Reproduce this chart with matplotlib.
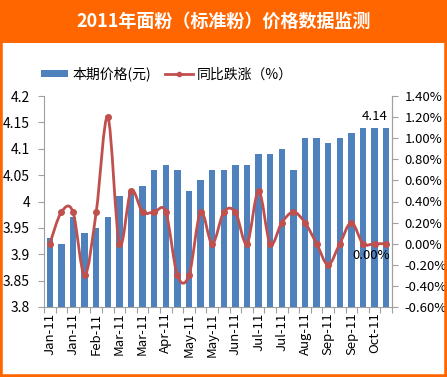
import numpy as np
import matplotlib
matplotlib.use("Agg")
import matplotlib.pyplot as plt
from matplotlib.path import Path
from matplotlib.patches import PathPatch, Rectangle
from matplotlib.lines import Line2D

plt.rcParams['font.family'] = ['Noto Sans CJK SC', 'DejaVu Sans']

# data
labels = ["Jan-11", "Jan-11", "Feb-11", "Mar-11", "Mar-11", "Apr-11", "May-11", "May-11",
          "Jun-11", "Jul-11", "Jul-11", "Aug-11", "Sep-11", "Sep-11", "Oct-11"]
price = [3.93, 3.92, 3.97, 3.94, 3.95, 3.97, 4.01, 4.02, 4.03, 4.06,
         4.07, 4.06, 4.02, 4.04, 4.06, 4.06, 4.07, 4.07, 4.09, 4.09,
         4.10, 4.06, 4.12, 4.12, 4.11, 4.12, 4.13, 4.14, 4.14, 4.14]
yoy = [0.0, 0.3, 0.3, -0.3, 0.3, 1.2, 0.0, 0.5, 0.3, 0.3,
       0.3, -0.3, -0.3, 0.3, 0.0, 0.3, 0.3, 0.0, 0.5, 0.0,
       0.2, 0.3, 0.2, 0.0, -0.2, 0.0, 0.2, 0.0, 0.0, 0.0]

blue = "#4F81BD"
red = "#C0504D"
orange = "#FF6600"

W, H = 447, 377
fig = plt.figure(figsize=(W / 100, H / 100), dpi=100)
fig.patch.set_facecolor("white")

# orange frame + title band
fig.add_artist(Rectangle((0, 0), 1, 1, transform=fig.transFigure, fill=False,
                         edgecolor=orange, linewidth=4))
fig.add_artist(Rectangle((0, 1 - 43 / H), 1, 43 / H, transform=fig.transFigure,
                         facecolor=orange, edgecolor="none"))
fig.text(0.5, 1 - 21 / H, "2011年面粉（标准粉）价格数据监测", color="white",
         fontsize=13, fontweight="bold", ha="center", va="center")

ax = fig.add_axes([44 / W, 1 - 307 / H, (392 - 44) / W, (307 - 96) / H])
x = np.arange(len(price))
ax.bar(x, price, width=0.55, color=blue, zorder=2)
ax.set_ylim(3.8, 4.2)
ax.set_xlim(-0.5, len(price) - 0.5)
ax.set_yticks(np.arange(3.8, 4.2001, 0.05))
ax.set_yticklabels(["3.8", "3.85", "3.9", "3.95", "4", "4.05", "4.1", "4.15", "4.2"])
ax.set_xticks(np.arange(-0.5, len(price), 1))
ax.set_xticklabels([])
ax.set_xticks(x[::2], minor=True)
ax.set_xticklabels(labels, minor=True, rotation=90, fontsize=9.5)
ax.tick_params(axis="x", which="minor", length=0, pad=4)
ax.tick_params(axis="x", which="major", length=4, color="#A0A0A0")
ax.tick_params(axis="y", length=4, color="#A0A0A0", labelsize=10, pad=6)
ax.spines["top"].set_visible(False)
for s in ["left", "right", "bottom"]:
    ax.spines[s].set_color("#A0A0A0")
ax.text(x[28], price[28] + 0.008, "4.14", ha="center", va="bottom", fontsize=9.5)

ax2 = ax.twinx()
ax2.set_ylim(-0.6, 1.4)
ax2.set_yticks(np.arange(-0.6, 1.4001, 0.2))
ax2.set_yticklabels([f"{v:.2f}%" for v in np.arange(-0.6, 1.4001, 0.2)])
ax2.tick_params(axis="y", length=4, color="#A0A0A0", labelsize=9.5, pad=5)
for s in ["top", "left", "bottom"]:
    ax2.spines[s].set_visible(False)
ax2.spines["right"].set_color("#A0A0A0")

# smoothed line like Excel's (cubic Bezier through the points)
yv = np.array(yoy)
verts = [(x[0], yv[0])]
codes = [Path.MOVETO]
t = 1 / 6
for i in range(len(yv) - 1):
    p0 = (x[max(i - 1, 0)], yv[max(i - 1, 0)])
    p1 = (x[i], yv[i])
    p2 = (x[i + 1], yv[i + 1])
    p3 = (x[min(i + 2, len(yv) - 1)], yv[min(i + 2, len(yv) - 1)])
    c1 = (p1[0] + (p2[0] - p0[0]) * t, p1[1] + (p2[1] - p0[1]) * t)
    c2 = (p2[0] - (p3[0] - p1[0]) * t, p2[1] - (p3[1] - p1[1]) * t)
    verts += [c1, c2, p2]
    codes += [Path.CURVE4] * 3
ax2.add_patch(PathPatch(Path(verts, codes), facecolor="none", edgecolor=red,
                        linewidth=2, zorder=3))
ax2.plot(x, yv, linestyle="none", marker="o", markersize=4, color=red, zorder=4)
ax2.text(x[28] - 0.3, yv[28] - 0.05, "0.00%", ha="center", va="top", fontsize=9.5)

# legend
handles = [Rectangle((0, 0), 1, 1, facecolor=blue),
           Line2D([], [], color=red, linewidth=2, marker="o", markersize=3)]
fig.legend(handles, ["本期价格(元)", "同比跌涨（%）"], loc="center left",
           bbox_to_anchor=(28 / W, 1 - 74 / H), ncol=2, frameon=False,
           fontsize=10, handlelength=2.0, handletextpad=0.3, columnspacing=1.0,
           handleheight=0.5)

fig.savefig("out.png", dpi=100)
